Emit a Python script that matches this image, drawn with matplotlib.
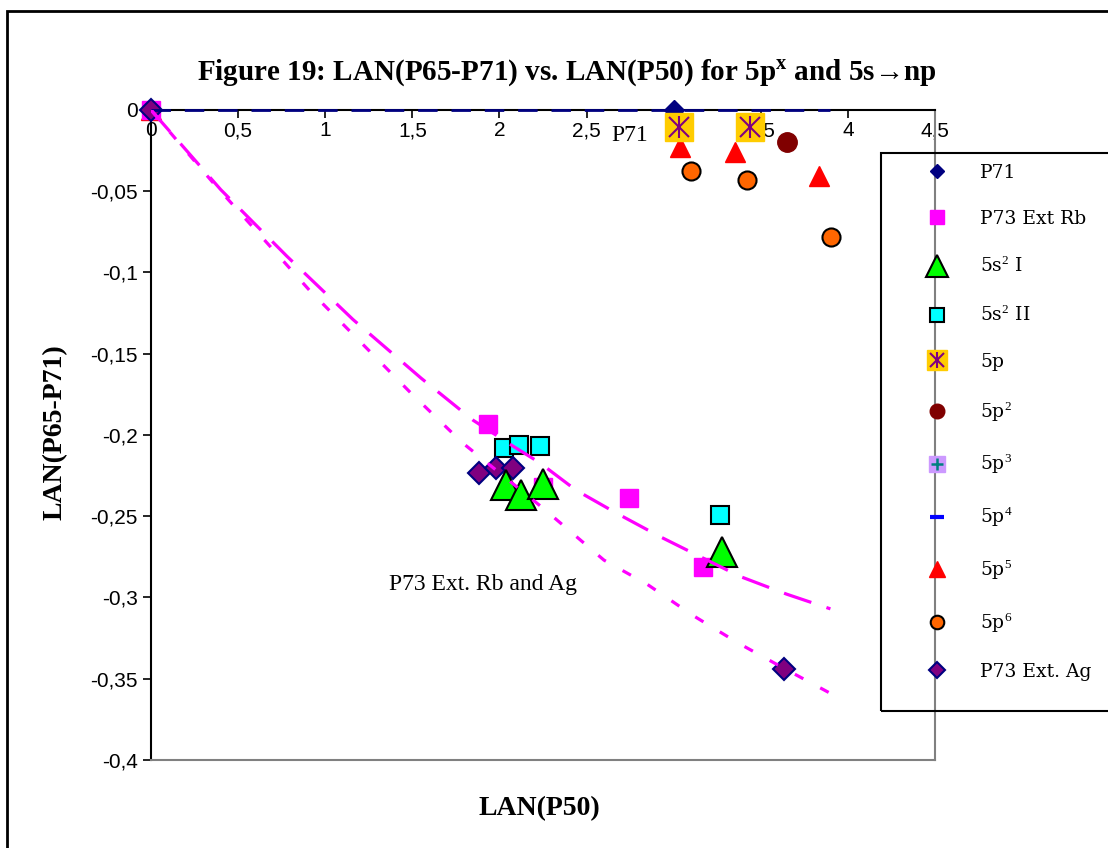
import numpy as np
import matplotlib
matplotlib.use("Agg")
import matplotlib.pyplot as plt
from matplotlib.ticker import FuncFormatter
from matplotlib.legend_handler import HandlerTuple
from matplotlib.patches import Rectangle

# --- data ---
p71_x = [0.0, 3.0]
p71_y = [0.0, 0.0]

rb_x = [0.0, 1.935, 2.25, 2.744, 3.169]
rb_y = [0.0, -0.193, -0.232, -0.239, -0.281]

s2i_x = [2.038, 2.124, 2.25, 3.278]
s2i_y = [-0.231, -0.237, -0.230, -0.272]

s2ii_x = [2.024, 2.113, 2.233, 3.265]
s2ii_y = [-0.208, -0.206, -0.207, -0.249]

p1_x = [3.033, 3.44]
p1_y = [-0.0107, -0.0107]

p2_x = [3.65]
p2_y = [-0.0195]

p3_x = []
p3_y = []

p4_x = []
p4_y = []

p5_x = [0.0, 3.036, 3.352, 3.837]
p5_y = [0.0, -0.0226, -0.0256, -0.0406]

p6_x = [3.10, 3.419, 3.901]
p6_y = [-0.0373, -0.0431, -0.0782]

ag_x = [0.0, 1.883, 1.98, 2.078, 3.634]
ag_y = [0.0, -0.2232, -0.2205, -0.2205, -0.344]

# trend lines
trend_p71_x = [0.0, 3.9]
trend_p71_y = [0.0, 0.0]
trend_rb_x = [0.0, 0.4, 0.78, 1.16, 1.55, 1.85, 2.08, 2.23, 2.44, 2.67, 2.93, 3.38, 3.65, 3.9]
trend_rb_y = [0.0, -0.049, -0.090, -0.129, -0.165, -0.191, -0.207, -0.217, -0.234,
              -0.248, -0.263, -0.287, -0.298, -0.307]
trend_ag_x = [0.0, 0.35, 0.91, 1.49, 1.79, 2.25, 2.6, 2.85, 3.11, 3.37, 3.64, 3.9]
trend_ag_y = [0.0, -0.044, -0.111, -0.174, -0.205, -0.245, -0.277, -0.292, -0.311,
              -0.328, -0.344, -0.359]

x_ticks = [0, 0.5, 1, 1.5, 2, 2.5, 3, 3.5, 4, 4.5]
y_ticks = [0, -0.05, -0.1, -0.15, -0.2, -0.25, -0.3, -0.35, -0.4]

serif = "Liberation Serif"
sans = "Liberation Sans"
plt.rcParams["mathtext.fontset"] = "custom"
plt.rcParams["mathtext.rm"] = "Liberation Serif"
plt.rcParams["mathtext.bf"] = "Liberation Serif:bold"

fig = plt.figure(figsize=(11.08, 8.48), dpi=100)
ax = fig.add_axes([0.1363, 0.1038, 0.8438 - 0.1363, 0.8703 - 0.1038])
ax.set_xlim(0, 4.5)
ax.set_ylim(-0.4, 0)

# spines: x axis sits at y=0, gray frame at bottom/right
ax.spines["bottom"].set_position(("data", 0))
ax.spines["bottom"].set_linewidth(1.5)
ax.spines["left"].set_linewidth(1.5)
ax.spines["top"].set_position(("data", -0.4))
ax.spines["top"].set_color("#808080")
ax.spines["right"].set_color("#808080")
ax.spines["top"].set_linewidth(1.5)
ax.spines["right"].set_linewidth(1.5)

ax.set_xticks(x_ticks)
ax.set_yticks(y_ticks)
fmt = FuncFormatter(lambda v, p: ("%g" % v).replace(".", ","))
ax.xaxis.set_major_formatter(fmt)
ax.yaxis.set_major_formatter(fmt)
ax.tick_params(axis="both", direction="out", length=6, width=1.2, labelsize=15)
ax.tick_params(axis="x", pad=2)
for lab in ax.get_xticklabels() + ax.get_yticklabels():
    lab.set_fontfamily(sans)

# series
h_p71, = ax.plot(p71_x, p71_y, "D", color="#000080", ms=10, clip_on=False, zorder=3, label="P71")
h_rb, = ax.plot(rb_x, rb_y, "s", color="#FF00FF", ms=13, mec="#FF00FF", clip_on=False, zorder=3,
                label="P73 Ext Rb")
h_s2i, = ax.plot(s2i_x, s2i_y, "^", color="#00FF00", ms=22, mec="black", mew=1.5, zorder=6,
                 label="5s$^2$ I")
h_s2ii, = ax.plot(s2ii_x, s2ii_y, "s", color="#00FFFF", ms=13, mec="black", mew=1.5, zorder=4,
                  label="5s$^2$ II")
h_p1a, = ax.plot(p1_x, p1_y, "s", color="#FFCC00", ms=20, mec="#FFCC00", clip_on=False, zorder=4)
h_p1b, = ax.plot(p1_x, p1_y, "x", color="#800080", ms=14, mew=1.5, clip_on=False, zorder=4)
h_p1c, = ax.plot(p1_x, p1_y, "|", color="#800080", ms=16, mew=1.5, clip_on=False, zorder=4)
h_p2, = ax.plot(p2_x, p2_y, "o", color="#800000", ms=14, mec="#800000", zorder=4, label="5p$^2$")
h_p3a, = ax.plot(p3_x, p3_y, "s", color="#CC99FF", ms=15, mec="#CC99FF")
h_p3b, = ax.plot(p3_x, p3_y, "+", color="#008080", ms=12, mew=1.8)
h_p4, = ax.plot(p4_x, p4_y, "_", color="#0000FF", ms=14, mew=3)
h_p5, = ax.plot(p5_x, p5_y, "^", color="#FF0000", ms=15, mec="#FF0000", clip_on=False, zorder=2)
h_p6, = ax.plot(p6_x, p6_y, "o", color="#FF6600", ms=13, mec="black", mew=1.5, zorder=4)
h_ag, = ax.plot(ag_x, ag_y, "D", color="#800080", ms=11, mec="#000080", mew=1.5, clip_on=False,
                zorder=5)

# trend lines
ax.plot(trend_p71_x, trend_p71_y, color="#000080", lw=2, dashes=(7, 5), clip_on=False, zorder=7)
ax.plot(trend_rb_x, trend_rb_y, color="#FF00FF", lw=2.3, dashes=(9, 5), zorder=7)
ax.plot(trend_ag_x, trend_ag_y, color="#FF00FF", lw=2.3, dashes=(3, 6), zorder=7)

# annotations
ax.text(2.75, -0.0154, "P71", ha="center", va="center", fontsize=17, family=serif)
ax.text(1.906, -0.2923, "P73 Ext. Rb and Ag", ha="center", va="center", fontsize=17, family=serif)

fig.text(0.511, 0.913, r"Figure 19: LAN(P65-P71) vs. LAN(P50) for 5p$^{\mathbf{x}}$ and 5s→np",
         ha="center", va="center", fontsize=21, fontweight="bold", family=serif)
fig.text(0.487, 0.047, "LAN(P50)", ha="center", va="center", fontsize=20, fontweight="bold",
         family=serif)
fig.text(0.05, 0.49, "LAN(P65-P71)", ha="center", va="center", rotation=90, fontsize=20,
         fontweight="bold", family=serif)

# legend (frame drawn separately)
handles = [h_p71, h_rb, h_s2i, h_s2ii, (h_p1a, h_p1b, h_p1c), h_p2, (h_p3a, h_p3b), h_p4,
           h_p5, h_p6, h_ag]
labels = ["P71", "P73 Ext Rb", "5s$^2$ I", "5s$^2$ II", "5p", "5p$^2$", "5p$^3$", "5p$^4$",
          "5p$^5$", "5p$^6$", "P73 Ext. Ag"]
leg = ax.legend(handles, labels, handler_map={tuple: HandlerTuple(ndivide=1)},
                loc="upper left", bbox_to_anchor=(0.829, 0.807),
                bbox_transform=fig.transFigure, frameon=False,
                prop={"family": "DejaVu Serif", "size": 13.5},
                labelspacing=1.49, borderpad=0.0, handlelength=2.0, handletextpad=1.3,
                borderaxespad=0, markerscale=0.75)
fig.patches.append(Rectangle((881 / 1108, 1 - 711 / 848), 0.3, (711 - 153) / 848,
                             transform=fig.transFigure, fill=False, edgecolor="black", lw=1.5))

# outer border
fig.patches.append(Rectangle((0.006, -0.1), 1.5, 1.087, transform=fig.transFigure,
                             fill=False, edgecolor="black", lw=2))

fig.savefig("out.png", dpi=100)
